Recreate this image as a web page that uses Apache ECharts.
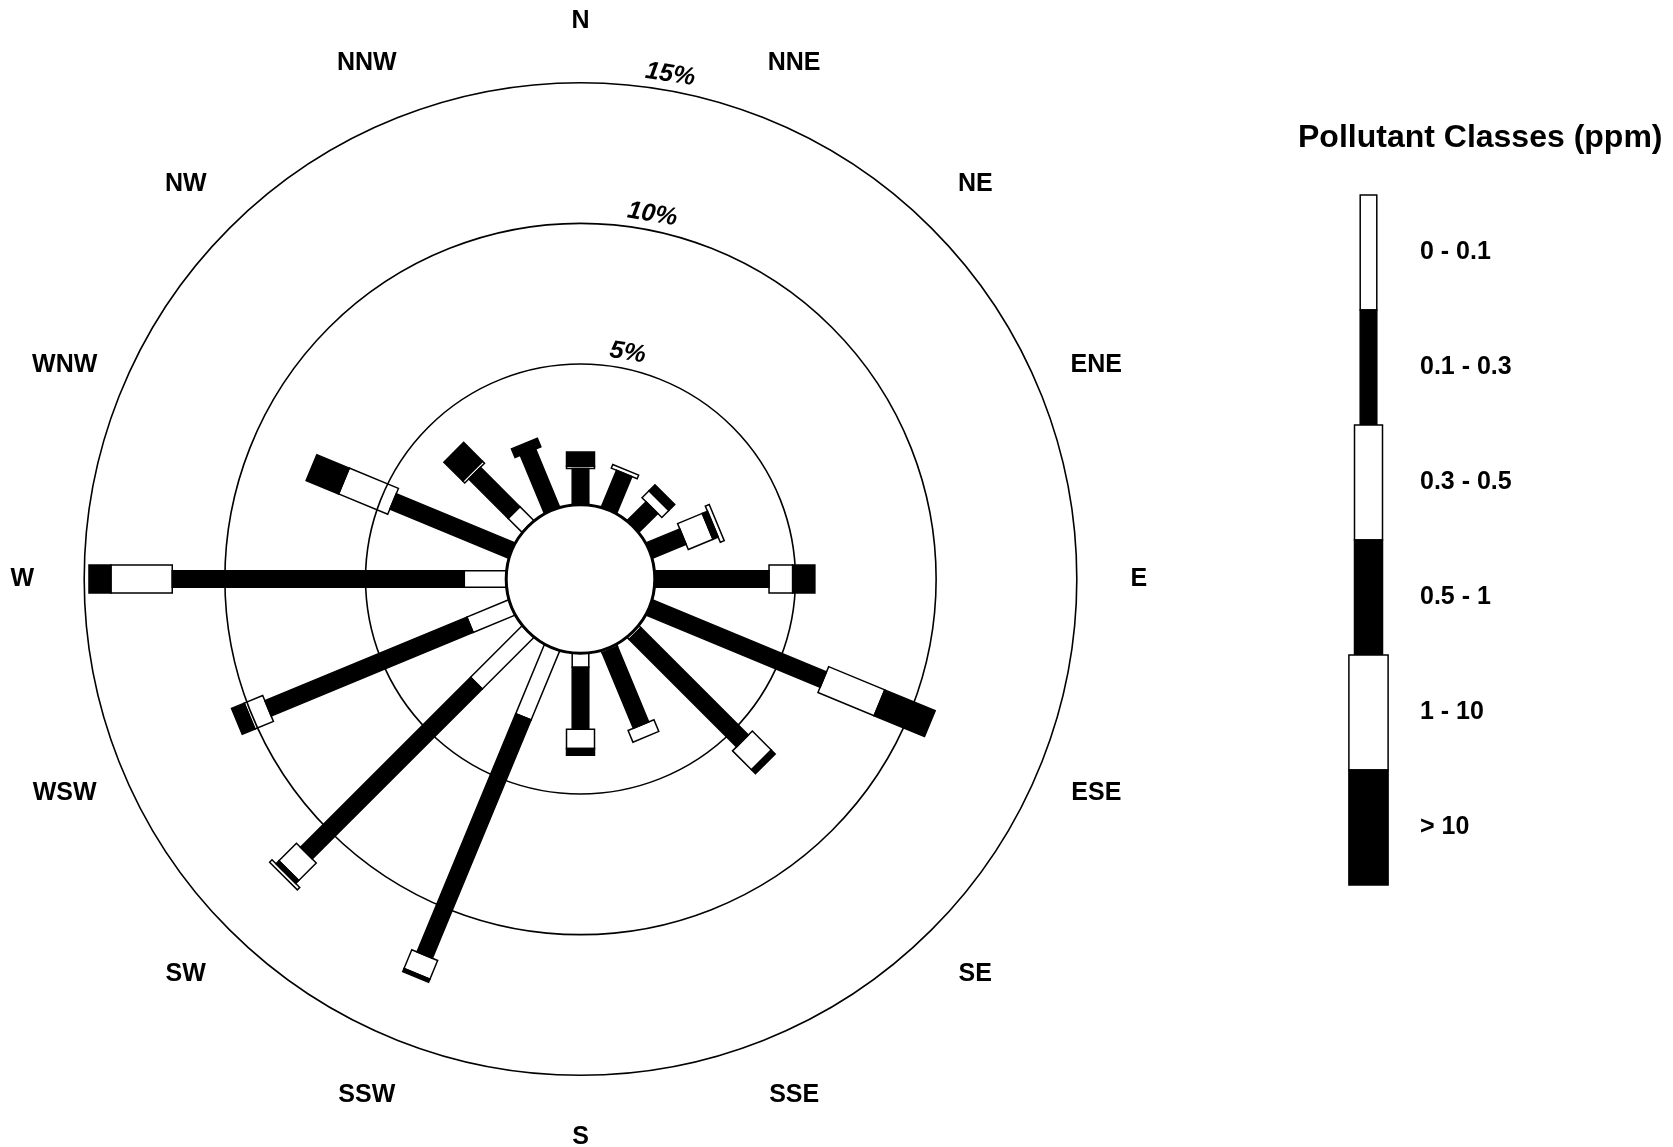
<!DOCTYPE html>
<html>
<head>
<meta charset="utf-8">
<script src="https://cdn.jsdelivr.net/npm/echarts@6/dist/echarts.min.js"></script>
<style>
html, body { margin: 0; padding: 0; background: #ffffff; }
#chart { width: 1673px; height: 1147px; }
</style>
</head>
<body>
<div id="chart"></div>
<script>
// ---------- data ----------
const directions = ['N', 'NNE', 'NE', 'ENE', 'E', 'ESE', 'SE', 'SSE', 'S', 'SSW', 'SW', 'WSW', 'W', 'WNW', 'NW', 'NNW'];
const classLabels = ['0 - 0.1', '0.1 - 0.3', '0.3 - 0.5', '0.5 - 1', '1 - 10', '> 10'];
// frequency (%) of each pollutant class per wind direction
const class1 = [0,    0,    0,    0,    0,    0,    0.10, 0.08, 0.50, 2.66, 2.59, 1.61, 1.49,  0,    0.70, 0];
const class2 = [1.29, 1.42, 0.95, 1.30, 4.06, 6.70, 5.40, 2.90, 2.20, 9.17, 8.55, 7.77, 10.38, 4.57, 1.98, 2.24];
const class3 = [0.08, 0.14, 0.35, 0.95, 0.84, 2.16, 0.95, 0.45, 0.68, 0.72, 0.88, 0.71, 2.18,  1.89, 0.10, 0];
const class4 = [0.50, 0,    0.30, 0.20, 0.79, 1.94, 0.20, 0,    0.24, 0.12, 0.15, 0.49, 0.78,  1.25, 0.95, 0.33];
const class5 = [0,    0,    0,    0.15, 0,    0,    0,    0,    0,    0,    0.12, 0,    0,     0,    0,    0];
const class6 = [0,    0,    0,    0,    0,    0,    0,    0,    0,    0,    0,    0,    0,     0,    0,    0];
const ringTicks = [5, 10, 15];
const legendTitle = 'Pollutant Classes (ppm)';

// ---------- styling ----------
const FONT = '"Liberation Sans", Arial, Helvetica, sans-serif';
const classes = [class1, class2, class3, class4, class5, class6];
const halfWidths = [8.3, 8.3, 14, 14, 19.6, 19.6];
const classFill = ['none', '#000', 'none', '#000', 'none', '#000'];
const legendFill = ['#fff', '#000', '#fff', '#000', '#fff', '#000'];

const chart = echarts.init(document.getElementById('chart'), null, { renderer: 'canvas' });

function unit(api, cs, idx) {
  const p = api.coord([ringTicks[ringTicks.length - 1], idx]);
  const dx = p[0] - cs.cx, dy = p[1] - cs.cy;
  const L = Math.hypot(dx, dy);
  return { ux: dx / L, uy: dy / L, R: L };
}

function renderBar(params, api) {
  const cs = params.coordSys;
  const idx = params.dataIndex;
  const u = unit(api, cs, idx);
  const nx = -u.uy, ny = u.ux;
  const children = [];
  let cum = 0;
  for (let k = 0; k < classes.length; k++) {
    const v = classes[k][idx];
    if (v > 0) {
      const a = api.coord([cum, idx]);
      const b = api.coord([cum + v, idx]);
      const w = halfWidths[k];
      children.push({
        type: 'polygon',
        shape: { points: [
          [a[0] + nx * w, a[1] + ny * w],
          [b[0] + nx * w, b[1] + ny * w],
          [b[0] - nx * w, b[1] - ny * w],
          [a[0] - nx * w, a[1] - ny * w]
        ] },
        style: { fill: classFill[k], stroke: '#000', lineWidth: 1.5, lineJoin: 'miter' }
      });
    }
    cum += v;
  }
  return { type: 'group', children: children };
}

function renderDirLabel(params, api) {
  const cs = params.coordSys;
  const idx = params.dataIndex;
  const u = unit(api, cs, idx);
  const rr = u.R + 62;
  return {
    type: 'text',
    x: cs.cx + u.ux * rr,
    y: cs.cy + u.uy * rr,
    style: {
      text: directions[idx], fill: '#000',
      fontSize: 25, fontWeight: 'bold', fontFamily: FONT,
      align: 'center', verticalAlign: 'middle'
    }
  };
}

function renderRingLabel(params, api) {
  const cs = params.coordSys;
  const v = ringTicks[params.dataIndex];
  const p = api.coord([v, 0]);
  const rpx = Math.hypot(p[0] - cs.cx, p[1] - cs.cy) + 16;
  const text = v + '%';
  const th0 = 7.3 * Math.PI / 180;
  const halfW = text.length * 0.33 * 25 / 2;
  const th = th0 + halfW / rpx;
  return {
    type: 'text',
    x: cs.cx + Math.sin(th0) * rpx,
    y: cs.cy - Math.cos(th0) * rpx,
    rotation: -th,
    style: {
      text: text, fill: '#000',
      fontSize: 25, fontWeight: 'bold', fontStyle: 'italic', fontFamily: FONT,
      align: 'left', verticalAlign: 'middle'
    }
  };
}

function renderCalm(params, api) {
  const cs = params.coordSys;
  return {
    type: 'circle',
    shape: { cx: cs.cx, cy: cs.cy, r: cs.r0 },
    style: { fill: '#fff', stroke: '#000', lineWidth: 3 }
  };
}

// legend graphics
const legendTop = 195, legendStep = 115, legendCx = 1368.5;
const legendGraphics = [{
  type: 'text', x: 1298, y: 138,
  style: { text: legendTitle, fill: '#000', fontSize: 32, fontWeight: 'bold', fontFamily: FONT, align: 'left', verticalAlign: 'middle' }
}];
classLabels.forEach((lab, k) => {
  const hw = halfWidths[k];
  legendGraphics.push({
    type: 'rect',
    shape: { x: legendCx - hw, y: legendTop + k * legendStep, width: hw * 2, height: legendStep },
    style: { fill: legendFill[k], stroke: '#000', lineWidth: 1.5 }
  });
  legendGraphics.push({
    type: 'text', x: 1420, y: legendTop + k * legendStep + legendStep / 2,
    style: { text: lab, fill: '#000', fontSize: 25, fontWeight: 'bold', fontFamily: FONT, align: 'left', verticalAlign: 'middle' }
  });
});

const totals = directions.map((d, i) => classes.reduce((s, c) => s + c[i], 0));

chart.setOption({
  animation: false,
  backgroundColor: '#fff',
  polar: { center: [580.5, 579], radius: [74.3, 496.3] },
  angleAxis: {
    // band centres: N sits half a band after the start angle, so it points straight up
    type: 'category', data: directions, startAngle: 90 + 360 / directions.length / 2, clockwise: true, boundaryGap: true,
    axisLine: { show: false }, axisTick: { show: false }, axisLabel: { show: false }, splitLine: { show: false }
  },
  radiusAxis: {
    type: 'value', min: 0, max: 15, interval: 5,
    axisLine: { show: false }, axisTick: { show: false }, axisLabel: { show: false },
    splitLine: { show: true, lineStyle: { color: '#000', width: 1.6, type: 'solid' } },
    splitArea: { show: false }
  },
  series: [
    {
      type: 'custom', name: 'bars', coordinateSystem: 'polar', z: 3,
      data: directions.map((d, i) => [totals[i], d]),
      renderItem: renderBar, silent: true
    },
    {
      type: 'custom', name: 'calm', coordinateSystem: 'polar', z: 5,
      data: [[0, directions[0]]],
      renderItem: renderCalm, silent: true
    },
    {
      type: 'custom', name: 'dirLabels', coordinateSystem: 'polar', z: 6,
      data: directions.map(d => [ringTicks[ringTicks.length - 1], d]),
      renderItem: renderDirLabel, silent: true, clip: false
    },
    {
      type: 'custom', name: 'ringLabels', coordinateSystem: 'polar', z: 6,
      data: ringTicks.map(v => [v, directions[0]]),
      renderItem: renderRingLabel, silent: true, clip: false
    }
  ],
  graphic: legendGraphics
});
</script>
</body>
</html>
